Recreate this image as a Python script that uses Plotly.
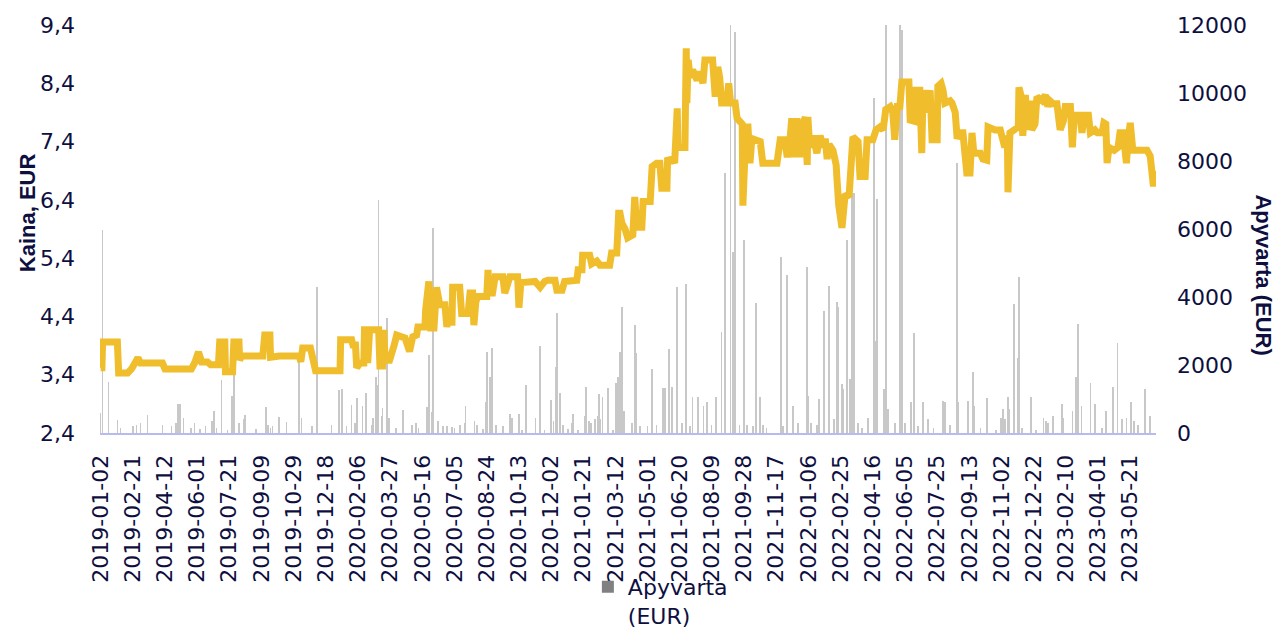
import pandas as pd
import plotly.graph_objects as go

# ---------------- data ----------------
start_date = "2019-01-02"

# price line: day number since 2019-01-02 and price in EUR
price_day = [0, 2, 3, 26, 28, 42, 48, 54, 58, 62, 96, 100, 120, 123, 127, 141, 146, 149, 152, 157,
             166, 171, 183, 185, 193, 194, 205, 207, 215, 216, 219, 252, 255, 263, 264, 278, 309, 311,
             314, 326, 330, 334, 372, 373, 390, 392, 396, 398, 403, 409, 410, 414, 415, 418, 432, 434,
             438, 440, 442, 449, 456, 460, 473, 480, 485, 491, 493, 504, 505, 510, 513, 518, 522, 527,
             535, 538,
             539, 546, 547, 558, 561, 571, 574, 578, 580, 583, 586, 600, 602, 603, 609, 613, 625, 628,
             633, 636, 648, 650, 653, 672, 675, 683, 690, 695, 706, 709, 717, 721, 740, 742, 748, 749,
             760, 763, 771, 776, 791, 794, 802, 805, 807,
             810, 815, 819, 827, 830, 833, 841, 843, 854, 857, 864, 869, 872, 880, 881, 889, 892, 896,
             897, 908, 910, 911, 913, 916, 920, 927, 931, 936, 939, 951, 955, 959, 962, 965, 973, 976,
             979, 986, 989, 997, 998, 1003, 1006, 1009, 1012, 1025, 1029, 1051, 1056, 1063, 1067, 1071,
             1074, 1077, 1082, 1087, 1091, 1095, 1098, 1099, 1102, 1107, 1113, 1118, 1123, 1126, 1129,
             1132, 1138, 1143, 1144, 1147, 1152, 1154, 1157, 1163, 1166, 1169, 1177, 1180, 1188, 1191,
             1200, 1205, 1211, 1216, 1220, 1227, 1231, 1234, 1238, 1242, 1245, 1256, 1258, 1264, 1266,
             1273, 1276, 1278, 1283, 1289, 1292, 1300, 1301, 1306, 1309, 1312, 1320, 1323, 1328, 1331,
             1335, 1340, 1343, 1346, 1351, 1354, 1357, 1367, 1371, 1377, 1379, 1390, 1398, 1401, 1405,
             1409, 1410, 1413, 1421, 1426, 1427, 1430, 1433, 1437, 1440, 1444, 1447, 1452, 1455, 1463,
             1468, 1472, 1475, 1480, 1486, 1491, 1496, 1499, 1507, 1510, 1513, 1522, 1525, 1528, 1535,
             1538, 1545, 1549, 1556, 1559, 1562, 1564, 1567, 1575, 1581, 1584, 1589, 1594, 1597, 1600,
             1604, 1626, 1631, 1634, 1636, 1639]
price_eur = [3.52, 3.52, 3.96, 3.96, 3.43, 3.43, 3.5, 3.62, 3.69, 3.6, 3.6, 3.5, 3.5, 3.47, 3.5, 3.5, 3.6, 3.74, 3.79, 3.62,
             3.62, 3.57, 3.57, 3.96, 3.96, 3.45, 3.45, 3.96, 3.96, 3.65, 3.72, 3.72, 4.08, 4.08, 3.7, 3.72, 3.72, 3.62,
             3.86, 3.86, 3.65, 3.47, 3.47, 4.0, 4.0, 3.91, 3.91, 3.52, 3.6, 3.6, 4.17, 4.17, 3.6, 4.17, 4.17, 3.55,
             3.55, 4.17, 3.65, 3.65, 3.9, 4.08, 4.03, 3.8, 4.05, 4.08, 4.22, 4.22, 4.51, 5.0, 4.2, 4.2, 4.9, 4.6,
             4.6, 4.22,
             4.3, 4.3, 4.9, 4.9, 4.45, 4.45, 4.8, 4.8, 4.25, 4.65, 4.74, 4.74, 5.2, 4.8, 4.8, 5.08, 5.08, 4.8,
             4.95, 5.08, 5.08, 4.55, 4.98, 4.98, 5.0, 4.9, 5.0, 5.02, 5.02, 4.85, 4.85, 5.0, 5.02, 5.2, 5.2, 5.45,
             5.45, 5.3, 5.35, 5.28, 5.28, 5.49, 5.49, 6.17, 6.17,
             6.0, 5.9, 5.75, 5.8, 6.45, 5.93, 5.93, 6.37, 6.37, 6.97, 7.03, 7.03, 6.6, 6.6, 7.08, 7.1, 7.03, 7.97,
             7.3, 7.3, 9.0, 8.06, 8.8, 8.5, 8.63, 8.45, 8.6, 8.4, 8.8, 8.8, 8.17, 8.68, 8.5, 8.06, 8.06, 8.4,
             8.06, 8.06, 7.8, 7.7, 6.3, 7.65, 7.65, 7.03, 7.45, 7.4, 7.03, 7.03, 7.43, 7.43, 7.13, 7.4,
             7.8, 7.13, 7.8, 7.13, 7.7, 7.82, 7.0, 7.82, 7.3, 7.5, 7.2, 7.5, 7.3, 7.45, 7.1,
             7.35, 7.25, 7.0, 6.8, 6.3, 5.92, 6.2, 6.5, 6.45, 6.9, 7.48, 7.4, 6.8, 6.8, 7.43,
             7.43, 7.6, 7.65, 7.6, 7.95, 8.0, 7.9, 7.43, 8.0, 8.0, 8.42, 8.42, 7.77, 7.75, 8.28,
             8.28, 7.2, 8.28, 7.9, 8.28, 7.43, 7.43, 8.35, 8.4, 8.28, 8.06, 8.1, 8.06, 7.9, 7.45,
             7.55, 7.55, 7.2, 6.86, 6.86, 7.55, 7.2, 7.2, 7.1, 7.08, 7.65, 7.6, 7.6, 7.45, 7.3,
             7.5, 6.53, 7.55, 7.6, 7.65, 8.33, 8.2, 7.5, 8.2, 7.6, 8.1, 7.6, 7.7, 8.17, 8.1,
             8.2, 8.0, 8.1, 8.05, 8.05, 7.6, 7.75, 8.0, 8.0, 7.3, 7.85, 7.85, 7.55, 7.85, 7.85,
             7.55, 7.6, 7.55, 7.55, 7.72, 7.7, 7.03, 7.3, 7.25, 7.3, 7.55, 7.55, 7.03, 7.45, 7.72,
             7.25, 7.25, 7.15, 6.85, 6.63, 6.9]

# turnover bars: day number since 2019-01-02 and turnover in EUR
vol_day = [0, 3, 12, 26, 31, 50, 56, 62, 73, 96, 110, 117, 120, 123, 129, 140, 146, 154, 163, 173,
           176, 180, 188, 197, 204, 207, 215, 222, 224, 241, 257, 260, 264,
           267, 277, 289, 308, 312, 328, 336, 359, 370, 375, 376, 382, 390, 395, 398, 407, 412, 421,
           423, 428, 429, 432, 437, 438, 445, 448, 459, 470, 484, 490, 494, 507, 510, 515, 516, 524, 532,
           538, 546, 550, 558, 566, 567, 581, 585, 594, 599, 600, 605, 608, 614, 625, 636, 639, 650, 655,
           661, 676, 683, 690, 700, 704, 707, 709, 714, 718, 726, 732, 734, 742, 752, 754, 759, 762, 768,
           773, 774, 777, 780, 788, 796, 801, 804, 807, 810, 813,
           826, 830, 832, 838, 850, 857, 864, 874, 877, 883, 888, 896, 903, 910, 916, 920, 928, 937, 942,
           949, 956, 965, 970, 979, 983, 986, 993, 1000, 1004, 1014, 1018, 1025, 1029, 1035, 1057, 1060,
           1067, 1076,
           1084, 1098, 1099, 1104, 1113, 1116, 1124, 1132, 1140, 1144, 1146, 1152, 1154, 1160, 1164, 1168,
           1171, 1177, 1183, 1192, 1202, 1203, 1206, 1217, 1220, 1224, 1234, 1242, 1245, 1250, 1259, 1264,
           1270, 1278, 1286, 1294, 1309, 1312, 1320, 1331, 1332, 1348, 1356,
           1358, 1367, 1377, 1391, 1399, 1402, 1405, 1410, 1412, 1419, 1426, 1427, 1432, 1446, 1454, 1465,
           1469, 1472, 1480, 1494, 1496, 1510, 1516, 1519, 1524, 1538, 1545, 1556, 1562, 1573, 1580, 1587,
           1594, 1601, 1606, 1612, 1623, 1631]
vol_eur = [590, 5970, 1500, 380, 150, 200, 250, 300, 530, 250, 200, 300, 850, 850, 440, 150, 300, 120, 200, 350,
           650, 150, 1560, 80, 1090, 1700, 300, 400, 530, 120, 760, 250, 150,
           200, 470, 330, 2150, 450, 200, 4300, 250, 1260, 1300, 800, 200, 820, 300, 1030, 800, 1180, 250,
           450, 1650, 1400, 6850, 500, 730, 3380, 450, 150, 680, 250, 300, 150, 760, 2300, 620, 6030, 350, 200,
           200, 180, 150, 250, 300, 790, 350, 250, 120, 900, 2380, 1650, 2500, 250, 200, 550, 450, 550, 100,
           1410, 450, 2560, 100, 970, 350, 1940, 3530, 1180, 250, 120, 300, 550, 100, 500, 1350, 350, 300, 400,
           500, 1150, 400, 1060, 1320, 100, 1470, 1650, 2380, 3710, 650,
           300, 3180, 2350, 200, 200, 1880, 250, 1320, 1320, 2470, 1350, 4300, 300, 4380, 200, 1060, 1060, 800, 900,
           250, 1050, 2970, 7650, 12000, 5320, 11800, 250, 5680, 250, 200, 3820, 1050, 250, 150, 5180, 200,
           4650, 800,
           300, 4880, 1100, 300, 250, 1000, 3590, 4320, 400, 3850, 3700, 1450, 1300, 5680, 1600, 7060,
           7060, 300, 150, 450, 9850, 2700, 6880, 1300, 12000, 700, 300, 12000, 11850, 300, 900, 2940,
           200, 900, 400, 150, 950, 900, 250, 7940, 900, 950, 1790,
           800, 150, 1030, 100, 450, 700, 400, 1050, 700, 3790, 2200, 4590, 150, 1050, 100, 450,
           350, 300, 500, 850, 450, 650, 1650, 3200, 800, 1470, 850, 150, 650, 1350, 2650, 400,
           450, 900, 350, 250, 1290, 500]

# axis tick settings (values)
price_range = [2.4, 9.4]
vol_range = [0, 12000]
x_range = ["2019-01-01", "2023-06-30"]
tick_step_days = 50

# ---------------- figure ----------------
t0 = pd.Timestamp(start_date)
price_dates = t0 + pd.to_timedelta(price_day, unit="D")
vol_dates = t0 + pd.to_timedelta(vol_day, unit="D")

NAVY = "#0e0f3f"
TICKFONT = dict(family="DejaVu Sans", size=22, color=NAVY)
DAY_MS = 86400000

fig = go.Figure()
fig.add_trace(go.Bar(
    x=vol_dates, y=vol_eur, yaxis="y", width=DAY_MS,
    marker=dict(color="#c8c8c8", line=dict(width=0)),
    showlegend=False, name="Apyvarta (EUR)",
))
# legend entry for the turnover series
fig.add_trace(go.Bar(
    x=[None], y=[None], yaxis="y", name="Apyvarta<br>(EUR)",
    marker=dict(color="#808080", line=dict(width=0)), showlegend=True,
))
fig.add_trace(go.Scatter(
    x=price_dates, y=price_eur, yaxis="y2", mode="lines",
    line=dict(color="#F0BE2C", width=7), showlegend=False, name="Kaina, EUR",
))

fig.update_layout(
    width=1281, height=631,
    margin=dict(l=100, r=125, t=25, b=198, autoexpand=False),
    paper_bgcolor="white", plot_bgcolor="white",
    separators=", ",
    font=dict(family="DejaVu Sans", size=22, color=NAVY),
    bargap=0,
    xaxis=dict(
        type="date", range=x_range, tick0=start_date, dtick=tick_step_days * DAY_MS,
        tickformat="%Y-%m-%d", tickangle=-90, tickfont=TICKFONT,
        showline=True, linecolor="#b7bbf2", linewidth=2, ticks="",
        showgrid=False, zeroline=False, ticklabelstandoff=11,
    ),
    yaxis=dict(
        side="right", range=vol_range, tick0=0, dtick=2000, tickformat="d",
        tickfont=TICKFONT, showgrid=False, zeroline=False, showline=False,
        ticks="", ticklabelstandoff=20,
    ),
    yaxis2=dict(
        overlaying="y", side="left", range=price_range, tick0=2.4, dtick=1,
        tickformat=".1f", tickfont=TICKFONT, showgrid=False, zeroline=False,
        showline=False, ticks="", ticklabelstandoff=24,
    ),
    legend=dict(
        x=0.462, y=-0.326, xanchor="left", yanchor="top", valign="top",
        font=dict(family="DejaVu Sans", size=22, color=NAVY),
        bgcolor="rgba(0,0,0,0)", itemwidth=30,
    ),
    annotations=[
        dict(text="<b>Kaina, EUR</b>", textangle=-90, xref="paper", yref="paper",
             x=-0.069, y=0.539, showarrow=False, xanchor="center", yanchor="middle",
             font=dict(family="Liberation Sans", size=22, color=NAVY)),
        dict(text="<b>Apyvarta (EUR)</b>", textangle=90, xref="paper", yref="paper",
             x=1.102, y=0.387, showarrow=False, xanchor="center", yanchor="middle",
             font=dict(family="Liberation Sans", size=22, color=NAVY)),
    ],
)

fig.write_html("out.html", config={"displayModeBar": False},
               post_script="document.body.style.margin='0';")
